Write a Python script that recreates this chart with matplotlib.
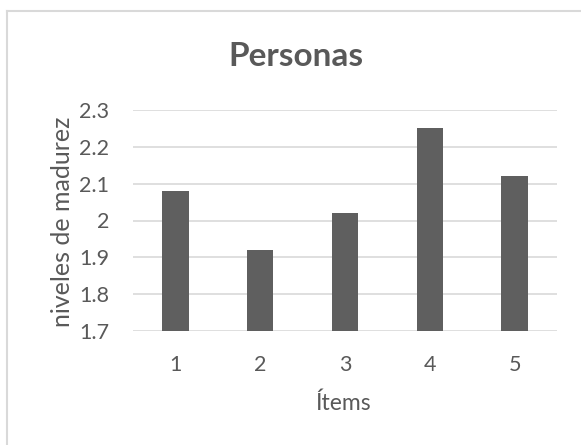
import matplotlib
matplotlib.use("Agg")
import matplotlib.pyplot as plt
from matplotlib.lines import Line2D

# Values
items = ["1", "2", "3", "4", "5"]
madurez = [2.08, 1.92, 2.02, 2.25, 2.12]
yticks = [1.7, 1.8, 1.9, 2.0, 2.1, 2.2, 2.3]
ytick_labels = ["1.7", "1.8", "1.9", "2", "2.1", "2.2", "2.3"]

text_color = "#595959"
plt.rcParams["font.family"] = ["Lato", "DejaVu Sans"]

fig = plt.figure(figsize=(5.81, 4.45), dpi=100)
ax = fig.add_axes([133 / 581, 1 - 331 / 445, 424 / 581, 221 / 445])

x = range(len(items))
ax.bar(x, [v - 1.7 for v in madurez], bottom=1.7, width=0.31,
       color="#5f5f5f", zorder=3)

ax.set_xlim(-0.5, len(items) - 0.5)
ax.set_ylim(1.7, 2.3)
ax.set_yticks(yticks)
ax.set_yticklabels(ytick_labels)
ax.set_xticks(list(x))
ax.set_xticklabels(items)
ax.tick_params(length=0, labelsize=15.5, colors=text_color)
ax.tick_params(axis="x", pad=17)
ax.tick_params(axis="y", pad=17)
ax.yaxis.grid(True, color="#d9d9d9", linewidth=1.2, zorder=0)
for s in ax.spines.values():
    s.set_visible(False)

fig.text(296 / 581, 1 - 57 / 445, "Personas", ha="center", va="center",
         fontsize=24, fontweight="bold", color=text_color)
fig.text(62 / 581, 1 - 222 / 445, "niveles de madurez", ha="center", va="center",
         rotation=90, fontsize=18, color=text_color)
fig.text(343 / 581, 1 - 403 / 445, "Ítems", ha="center", va="center",
         fontsize=16.5, color=text_color)

# chart border (only left and top are inside the image)
fig.add_artist(Line2D([7 / 581, 7 / 581], [0, 1 - 11 / 445],
                      transform=fig.transFigure, color="#d9d9d9", linewidth=1.5))
fig.add_artist(Line2D([7 / 581, 1], [1 - 11 / 445, 1 - 11 / 445],
                      transform=fig.transFigure, color="#d9d9d9", linewidth=1.5))

fig.savefig("out.png", dpi=100)
